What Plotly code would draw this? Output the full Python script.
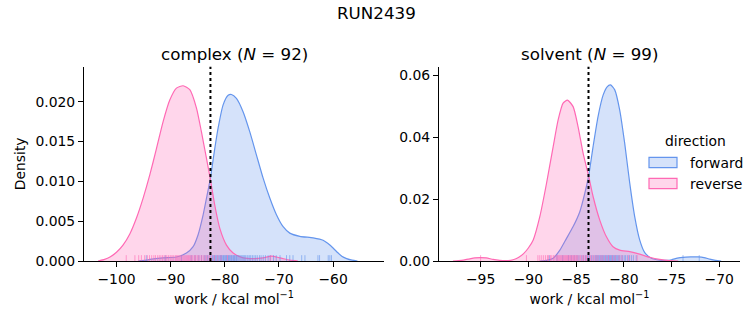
import plotly.graph_objects as go

# ---------------- data ----------------
# complex panel, KDE curves
cx_fwd_x = [-96.0, -94.5, -93.85, -91.39, -88.93, -87.08, -85.85, -84.93, -84.0, -83.26, -82.65, -82.03,
            -81.23, -80.31, -79.38, -78.77, -77.85, -76.61, -75.38, -74.15, -72.92, -71.69, -70.46,
            -69.23, -68.0, -66.15, -63.69, -61.85, -60.6, -59.37, -58.4, -57.5, -56.5, -55.5]
cx_fwd_y = [0.0, 0.0001, 0.0002, 0.0004, 0.0005, 0.001, 0.0018, 0.0033, 0.0058, 0.0083, 0.0104, 0.0133,
            0.0167, 0.0196, 0.0208, 0.0209, 0.0204, 0.0187, 0.0162, 0.0133, 0.0104, 0.0079, 0.0058,
            0.0043, 0.0035, 0.0031, 0.0029, 0.0026, 0.002, 0.0012, 0.0006, 0.0003, 0.0001, 0.0]
cx_rev_x = [-103.4, -102.2, -101.2, -100.0, -98.8, -97.54, -96.31, -95.08, -93.85, -92.62, -91.39, -90.16,
            -88.93, -87.69, -86.46, -85.23, -84.31, -83.39, -82.65, -81.85, -80.92, -79.69, -78.46,
            -76.61, -74.77, -72.92, -71.38, -69.84, -68.0, -66.5]
cx_rev_y = [0.0, 0.0002, 0.0005, 0.0011, 0.002, 0.0034, 0.0054, 0.0079, 0.0108, 0.0141, 0.0175, 0.0202,
            0.0217, 0.0220, 0.0215, 0.0192, 0.0162, 0.0129, 0.0102, 0.007, 0.0041, 0.002, 0.001,
            0.0004, 0.0003, 0.0004, 0.0006, 0.0004, 0.0001, 0.0]

# solvent panel, KDE curves
sv_fwd_x = [-88.8, -88.1, -87.4, -86.7, -86.0, -85.31, -84.61, -84.09, -83.67, -83.22, -82.7, -82.17,
            -81.75, -81.4, -80.95, -80.43, -79.91, -79.38, -78.86, -78.34, -77.81, -77.12, -76.25,
            -75.5, -75.0, -74.4, -73.8, -73.0, -72.2, -71.6, -71.0, -70.4, -69.8]
sv_fwd_y = [0.0, 0.0002, 0.0009, 0.0035, 0.0073, 0.0111, 0.0159, 0.0218, 0.0277, 0.0369, 0.0466, 0.0535,
            0.0562, 0.0568, 0.0552, 0.0487, 0.038, 0.0251, 0.0143, 0.0068, 0.0027, 0.0009, 0.0003,
            0.0002, 0.0004, 0.0009, 0.0012, 0.0013, 0.0013, 0.0011, 0.0006, 0.0002, 0.0]
sv_rev_x = [-97.9, -97.0, -96.3, -95.6, -95.0, -94.4, -93.7, -93.0, -92.3, -91.6, -91.0, -90.5, -90.0,
            -89.49, -88.8, -88.1, -87.4, -86.88, -86.36, -85.9, -85.31, -84.79, -84.26, -83.67, -83.22,
            -82.52, -81.82, -81.13, -80.43, -79.38, -78.34, -77.29, -76.25, -75.2, -74.3]
sv_rev_y = [0.0, 0.0002, 0.0006, 0.001, 0.0011, 0.001, 0.0005, 0.0002, 0.0001, 0.0004, 0.0012, 0.0024,
            0.0042, 0.0068, 0.0143, 0.025, 0.0369, 0.0455, 0.0509, 0.0519, 0.0498, 0.0433, 0.0347,
            0.0272, 0.0208, 0.0132, 0.0078, 0.0046, 0.0035, 0.003, 0.0022, 0.0012, 0.0005, 0.0001, 0.0]

# rug samples (individual work values)
cx_rug_fwd = [-94.5, -91.0, -88.0, -86.2, -85.5, -84.8, -84.3, -83.8, -83.5, -83.2, -82.9, -82.6, -82.3,
              -82.1, -81.9, -81.7, -81.5, -81.3, -81.1, -80.9, -80.8, -80.6, -80.5, -80.3, -80.2, -80.0,
              -79.9, -79.7, -79.6, -79.4, -79.3, -79.1, -79.0, -78.8, -78.7, -78.5, -78.4, -78.2, -78.1,
              -77.9, -77.8, -77.6, -77.4, -77.2, -77.0, -76.8, -76.6, -76.4, -76.2, -75.9, -75.7, -75.4,
              -75.2, -74.9, -74.6, -74.3, -74.0, -73.6, -73.3, -72.9, -72.5, -72.0, -71.6, -71.0, -70.5,
              -69.8, -68.6, -68.0, -67.4, -65.8, -65.2, -62.8, -62.5, -60.9, -60.6, -60.3]
cx_rug_rev = [-98.2, -96.6, -95.9, -95.4, -94.8, -94.3, -93.9, -93.5, -93.1, -92.8, -92.4, -92.1, -91.8,
              -91.5, -91.2, -90.9, -90.7, -90.4, -90.1, -89.9, -89.6, -89.4, -89.1, -88.9, -88.7, -88.5,
              -88.3, -88.1, -87.9, -87.7, -87.5, -87.3, -87.1, -86.9, -86.7, -86.5, -86.3, -86.1, -85.9,
              -85.6, -85.4, -85.1, -84.9, -84.6, -84.3, -84.0, -83.7, -83.4, -83.1, -82.8, -82.4, -81.9,
              -81.3, -80.7, -79.5, -71.6]
sv_rug_fwd = [-87.8, -87.0, -86.4, -85.8, -85.5, -85.2, -84.9, -84.7, -84.4, -84.2, -84.0, -83.8, -83.6,
              -83.4, -83.2, -83.0, -82.9, -82.8, -82.7, -82.6, -82.5, -82.4, -82.3, -82.2, -82.1, -82.0,
              -81.9, -81.8, -81.7, -81.6, -81.5, -81.4, -81.3, -81.2, -81.1, -81.0, -80.9, -80.8, -80.7,
              -80.6, -80.5, -80.4, -80.2, -80.1, -79.9, -79.8, -79.6, -79.4, -79.2, -79.0, -78.7,
              -73.8, -72.1]
sv_rug_rev = [-95.0, -90.2, -89.0, -88.8, -88.6, -88.4, -88.2, -88.0, -87.9, -87.7, -87.6, -87.4, -87.3,
              -87.1, -87.0, -86.9, -86.8, -86.7, -86.6, -86.5, -86.4, -86.3, -86.2, -86.1, -86.0, -85.9,
              -85.8, -85.7, -85.6, -85.5, -85.4, -85.3, -85.2, -85.1, -85.0, -84.9, -84.8, -84.6, -84.5,
              -84.3, -84.2, -84.0, -83.9, -83.7, -83.5, -83.3, -83.1, -82.9, -82.7, -82.4, -82.2, -81.9,
              -81.6, -81.2, -80.9, -80.5, -80.2, -79.5, -78.6]

# reference free energy lines
cx_ref = -82.65
sv_ref = -83.7

# tick labels
cx_xticks = [-100, -90, -80, -70, -60]
cx_xtext = ["\u2212100", "\u221290", "\u221280", "\u221270", "\u221260"]
sv_xticks = [-95, -90, -85, -80, -75, -70]
sv_xtext = ["\u221295", "\u221290", "\u221285", "\u221280", "\u221275", "\u221270"]
cx_yticks = [0.0, 0.005, 0.010, 0.015, 0.020]
sv_yticks = [0.0, 0.02, 0.04, 0.06]

titles = ["complex (<i>N</i> = 92)", "solvent (<i>N</i> = 99)"]
suptitle = "RUN2439"
legend_title = "direction"
labels = ["forward", "reverse"]

# ---------------- styling ----------------
BLUE = "#6495ED"
PINK = "#FF69B4"
BLUE_F = "rgba(100,149,237,0.27)"
PINK_F = "rgba(255,105,180,0.27)"
BLUE_R = "rgba(100,149,237,0.6)"
PINK_R = "rgba(255,105,180,0.6)"
FONT = "DejaVu Sans"
FS = 13.9
FT = 16.7
W, H = 753, 325

fig = go.Figure()

panels = [
    ("x", "y", cx_fwd_x, cx_fwd_y, cx_rev_x, cx_rev_y),
    ("x2", "y2", sv_fwd_x, sv_fwd_y, sv_rev_x, sv_rev_y),
]
for xa, ya, fx, fy, rx, ry in panels:
    fig.add_trace(go.Scatter(x=fx, y=fy, xaxis=xa, yaxis=ya, mode="lines", fill="tozeroy",
                             fillcolor=BLUE_F, line=dict(color=BLUE, width=1.2, shape="spline", smoothing=0.6),
                             name=labels[0], showlegend=False, hoverinfo="skip"))
    fig.add_trace(go.Scatter(x=rx, y=ry, xaxis=xa, yaxis=ya, mode="lines", fill="tozeroy",
                             fillcolor=PINK_F, line=dict(color=PINK, width=1.2, shape="spline", smoothing=0.6),
                             name=labels[1], showlegend=False, hoverinfo="skip"))

shapes = []
for xa, ya, vals, col in [("x", "y", cx_rug_fwd, BLUE_R), ("x", "y", cx_rug_rev, PINK_R),
                          ("x2", "y2", sv_rug_fwd, BLUE_R), ("x2", "y2", sv_rug_rev, PINK_R)]:
    for v in vals:
        shapes.append(dict(type="line", xref=xa, yref=ya + " domain", x0=v, x1=v, y0=0, y1=0.03,
                           line=dict(color=col, width=1)))
for xa, ya, v in [("x", "y", cx_ref), ("x2", "y2", sv_ref)]:
    shapes.append(dict(type="line", xref=xa, yref=ya + " domain", x0=v, x1=v, y0=0, y1=1,
                       line=dict(color="black", width=2, dash="dot")))


def px_x(p):
    return p / W


def px_y(p):
    return (H - p) / H


# legend drawn as patches + text (matplotlib-style legend)
annotations = []
for i, (lab, lc, fc) in enumerate([(labels[0], BLUE, BLUE_F), (labels[1], PINK, PINK_F)]):
    top = 157.3 + i * 21
    shapes.append(dict(type="rect", xref="paper", yref="paper", x0=px_x(649), x1=px_x(677),
                       y0=px_y(top + 10.4), y1=px_y(top), fillcolor=fc, line=dict(color=lc, width=1.2)))
    annotations.append(dict(text=lab, x=px_x(688), y=px_y(top + 5.2), xref="paper", yref="paper",
                            showarrow=False, xanchor="left", yanchor="middle",
                            font=dict(family=FONT, size=FS)))
annotations.append(dict(text=legend_title, x=px_x(695), y=px_y(141), xref="paper", yref="paper",
                        showarrow=False, xanchor="center", yanchor="middle", font=dict(family=FONT, size=FS)))

dom1 = [84 / W, 384 / W]
dom2 = [439 / W, 740 / W]
ydom = [px_y(261), px_y(66.7)]

axis_common = dict(showline=True, linecolor="black", linewidth=1, ticks="outside", ticklen=5,
                   tickwidth=1, tickcolor="black", showgrid=False, zeroline=False, automargin=False,
                   tickfont=dict(family=FONT, size=FS, color="black"), layer="above traces")

xlab = "work / kcal mol<sup>\u22121</sup>"
annotations += [
    dict(text=suptitle, x=0.5, y=px_y(13), xref="paper", yref="paper", showarrow=False,
         xanchor="center", yanchor="middle", font=dict(family=FONT, size=FT)),
    dict(text=titles[0], x=(dom1[0] + dom1[1]) / 2, y=px_y(54), xref="paper", yref="paper",
         showarrow=False, xanchor="center", yanchor="middle", font=dict(family=FONT, size=FT)),
    dict(text=titles[1], x=(dom2[0] + dom2[1]) / 2, y=px_y(54), xref="paper", yref="paper",
         showarrow=False, xanchor="center", yanchor="middle", font=dict(family=FONT, size=FT)),
]

fig.update_layout(
    template="none",
    width=W, height=H, margin=dict(l=0, r=0, t=0, b=0, autoexpand=False),
    paper_bgcolor="white", plot_bgcolor="white", showlegend=False,
    font=dict(family=FONT, size=FS, color="black"),
    xaxis=dict(domain=dom1, anchor="y", range=[-106.0, -50.6], tickvals=cx_xticks, ticktext=cx_xtext,
               title=dict(text=xlab, font=dict(family=FONT, size=FS), standoff=8), **axis_common),
    yaxis=dict(domain=ydom, anchor="x", range=[0, 0.02439], tickvals=cx_yticks, tickformat=".3f",
               title=dict(text="Density", font=dict(family=FONT, size=FS), standoff=6), **axis_common),
    xaxis2=dict(domain=dom2, anchor="y2", range=[-99.36, -67.83], tickvals=sv_xticks, ticktext=sv_xtext,
                title=dict(text=xlab, font=dict(family=FONT, size=FS), standoff=8), **axis_common),
    yaxis2=dict(domain=ydom, anchor="x2", range=[0, 0.06268], tickvals=sv_yticks, tickformat=".2f",
                **axis_common),
    shapes=shapes,
    annotations=annotations,
)

fig.write_html("out.html")
